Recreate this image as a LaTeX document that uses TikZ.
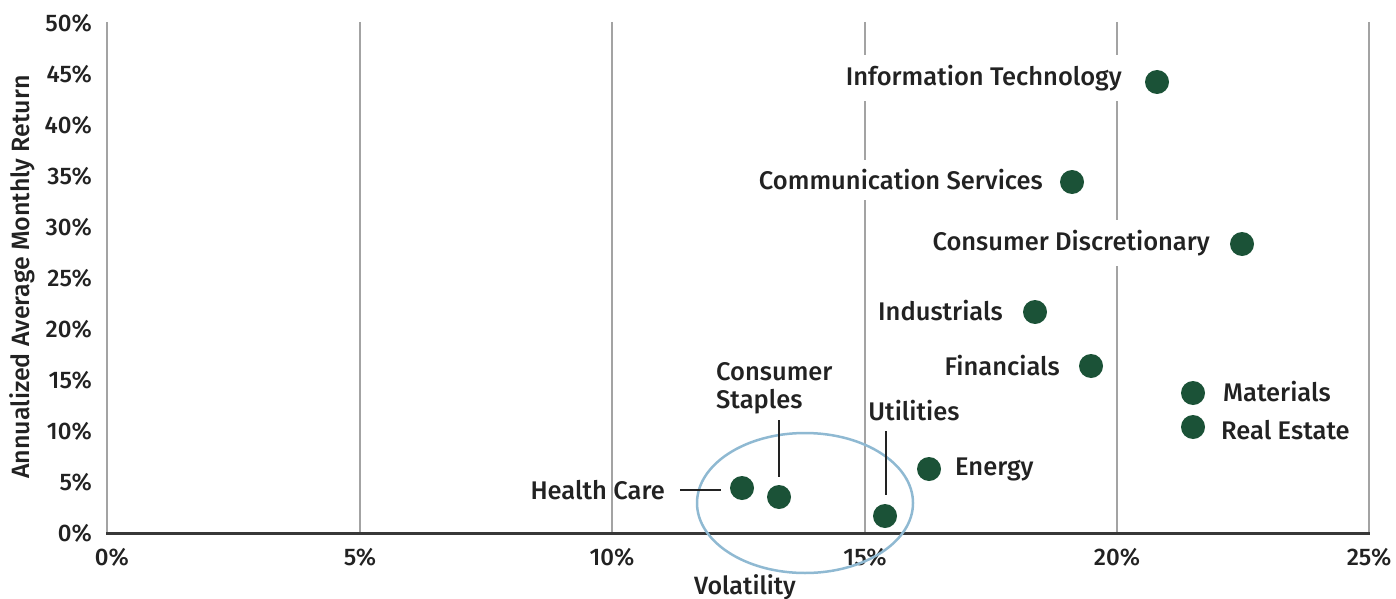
\documentclass[tikz,border=0pt]{standalone}
\usepackage{fontspec}
\setmainfont{Fira Sans}[UprightFont={* Medium},BoldFont={* SemiBold}]
\definecolor{dotg}{HTML}{1B5237}
\definecolor{txt}{HTML}{222222}
\definecolor{grid}{HTML}{A3A3A3}
\definecolor{ring}{HTML}{8FB9D2}
\tikzset{
  lab/.style={text=txt,font=\fontsize{25.5}{28}\selectfont,inner sep=0pt},
  labw/.style={lab,fill=white,inner xsep=3pt,inner ysep=10pt},
  ttl/.style={text=txt,font=\fontsize{25}{28}\selectfont,inner sep=0pt},
  tick/.style={text=txt,font=\fontsize{24}{27}\selectfont,inner sep=0pt},
  dot/.style={circle,fill=dotg,minimum size=24pt,inner sep=0pt},
  leader/.style={draw=txt,line width=2pt},
  gridl/.style={draw=grid,line width=1.5pt}
}
\begin{document}
\begin{tikzpicture}[x=1pt,y=-1pt]
\useasboundingbox (0,0) rectangle (1396,599);
% grid
\foreach \x in {107,360,612,865,1117,1369} \draw[gridl] (\x,22) -- (\x,533);
\draw[draw=txt!90,line width=3pt] (106,533) -- (1370,533);
% y ticks
\foreach \v/\y in {0/533,5/482,10/431,15/380,20/329,25/278,30/227,35/176,40/125,45/74,50/23}
  \node[tick,anchor=east] (yt\v) at (92,\y) {\v\%};
% x ticks
\node[tick] (xt0) at (112,557) {0\%};
\node[tick] (xt5) at (360,557) {5\%};
\node[tick] (xt10) at (612,557) {10\%};
\node[tick] (xt15) at (865,557) {15\%};
\node[tick] (xt20) at (1117,557) {20\%};
\node[tick] (xt25) at (1369,557) {25\%};
% axis titles
\node[ttl] (xtitle) at (745,587) {Volatility};
\node[ttl,rotate=90] (ytitle) at (22,277) {Annualized Average Monthly Return};
% ring
\draw[ring,line width=2.5pt] (805,503) ellipse [x radius=108,y radius=70];
% dots
\node[dot] (it) at (1157,82) {};
\node[dot] (cs) at (1072,182) {};
\node[dot] (cd) at (1242,244) {};
\node[dot] (ind) at (1035,312) {};
\node[dot] (fin) at (1091,366) {};
\node[dot] (mat) at (1193,393) {};
\node[dot] (re) at (1193,427) {};
\node[dot] (en) at (929,469) {};
\node[dot] (ut) at (885,516) {};
\node[dot] (hc) at (742,488) {};
\node[dot] (st) at (779,497) {};
% labels
\node[labw,anchor=east] (itl) at (1125,78) {Information Technology};
\node[labw,anchor=east] (csl) at (1046,180) {Communication Services};
\node[labw,anchor=east] (cdl) at (1213,243) {Consumer Discretionary};
\node[lab,anchor=east] (indl) at (1003,311) {Industrials};
\node[lab,anchor=east] (finl) at (1060,366) {Financials};
\node[lab,anchor=west] (matl) at (1223,392) {Materials};
\node[lab,anchor=west] (rel) at (1221,430) {Real Estate};
\node[lab,anchor=west] (enl) at (955,469) {Energy};
\node[lab] (utl) at (914,411) {Utilities};
\node[lab,anchor=east] (hcl) at (665,490) {Health Care};
\node[lab,align=left,anchor=west] (stl) at (716,388) {Consumer\\Staples};
% leaders
\coordinate (hca) at (680,490);
\coordinate (hcb) at (721,490);
\coordinate (sta) at (779,420);
\coordinate (stb) at (779,477);
\coordinate (uta) at (886,431);
\coordinate (utb) at (886,495);
\draw[leader] (hca) -- (hcb);
\draw[leader] (sta) -- (stb);
\draw[leader] (uta) -- (utb);
\end{tikzpicture}
\end{document}
